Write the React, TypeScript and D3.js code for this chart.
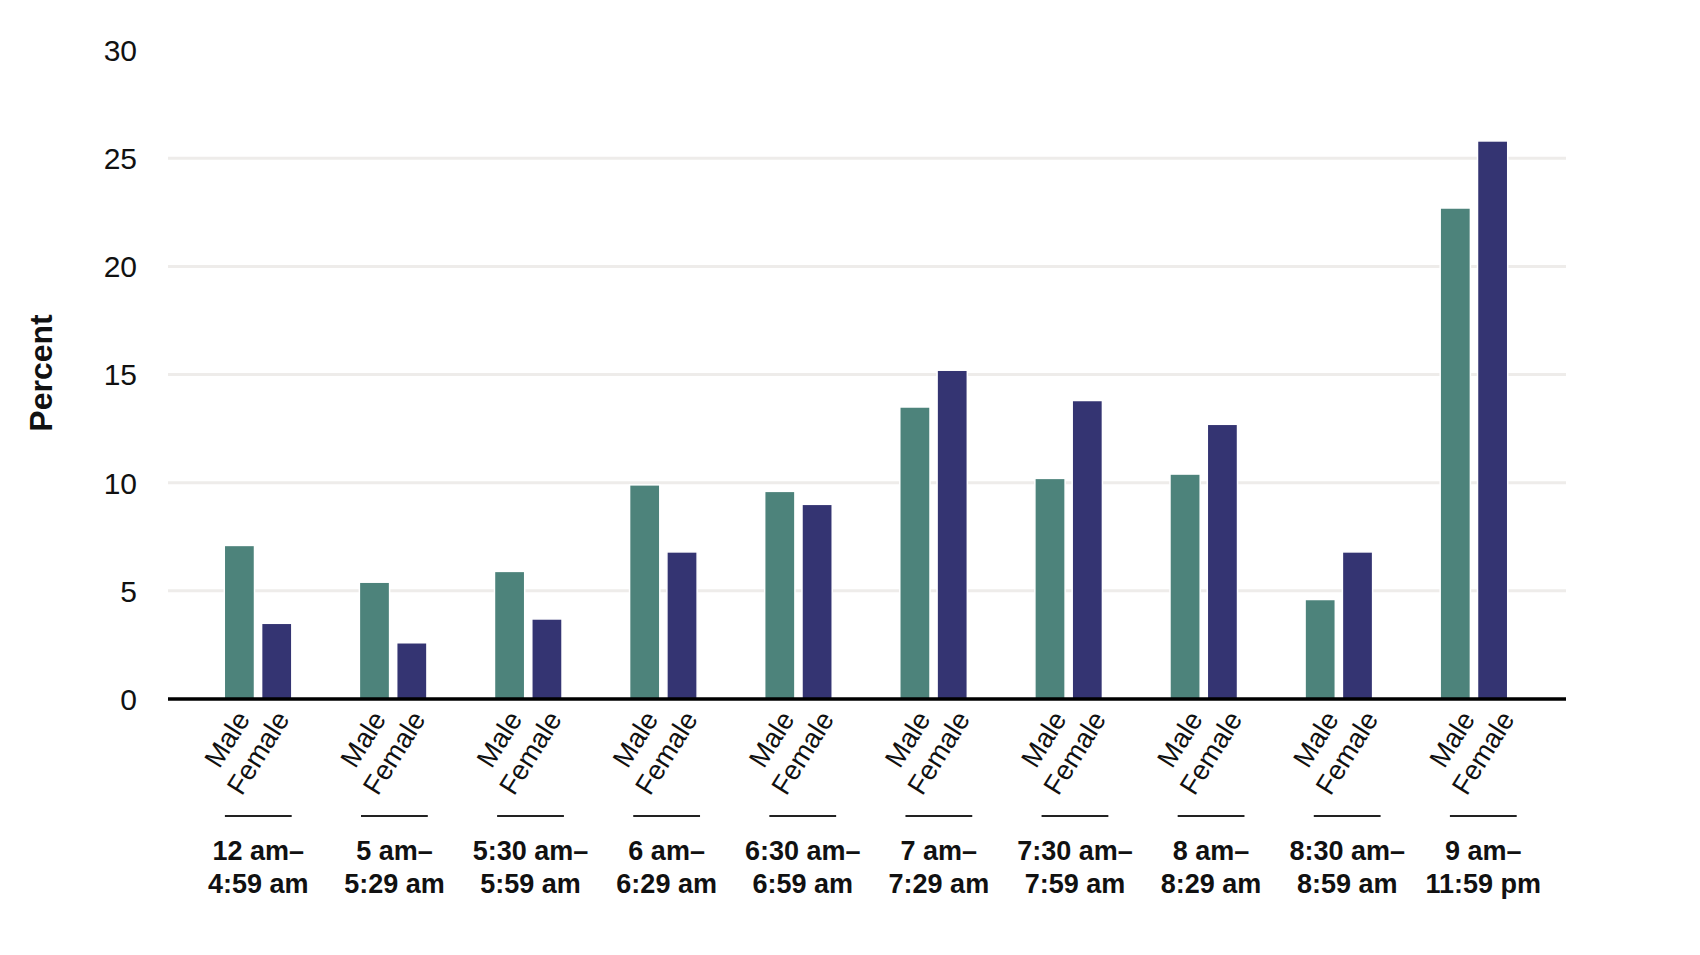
/* eslint-disable */
import React, { useEffect, useRef } from 'react';
import * as d3 from 'd3';

// ------- Data -------
const groupStart = ['12 am–', '5 am–', '5:30 am–', '6 am–', '6:30 am–', '7 am–', '7:30 am–', '8 am–', '8:30 am–', '9 am–'];
const groupEnd = ['4:59 am', '5:29 am', '5:59 am', '6:29 am', '6:59 am', '7:29 am', '7:59 am', '8:29 am', '8:59 am', '11:59 pm'];
const sexes = ['Male', 'Female'];
const maleValues = [7.1, 5.4, 5.9, 9.9, 9.6, 13.5, 10.2, 10.4, 4.6, 22.7];
const femaleValues = [3.5, 2.6, 3.7, 6.8, 9.0, 15.2, 13.8, 12.7, 6.8, 25.8];
const yTicks = [0, 5, 10, 15, 20, 25, 30];

const colors: Record<string, string> = { Male: '#4d837b', Female: '#343472' };

const App = () => {
  const ref = useRef<SVGSVGElement>(null);

  useEffect(() => {
    if (!ref.current) return;
    const svg = d3.select(ref.current);
    svg.selectAll('*').remove();

    const width = 1700;
    const height = 955;
    const left = 168;
    const right = 1566;
    const font = '"Liberation Sans", Arial, Helvetica, sans-serif';

    svg.attr('width', width).attr('height', height).attr('viewBox', `0 0 ${width} ${height}`);

    const groups = groupStart.map((s, i) => `${s} ${groupEnd[i]}`);
    const rows = groups.map((g, i) => ({ group: g, Male: maleValues[i], Female: femaleValues[i] }));

    // ------- Scales -------
    const y = d3.scaleLinear().domain([0, 30]).range([699, 50.1]);

    const x0 = d3
      .scaleBand<string>()
      .domain(groups)
      .range([190.5, 1541.5])
      .paddingInner(0.5)
      .paddingOuter(0.25);

    const x1 = d3
      .scaleBand<string>()
      .domain(sexes)
      .range([0, x0.bandwidth()])
      .paddingInner(0.19);

    // label layer sits on a slightly wider step than the bars
    const xl = d3.scalePoint<string>().domain(groups).range([258.3, 1483.3]);
    const xs = d3.scalePoint<string>().domain(sexes).range([-7.5, 32]);

    // ------- Gridlines -------
    svg.append('g')
      .selectAll('line')
      .data(yTicks.filter((t) => t > 0 && t < 30))
      .enter()
      .append('line')
      .attr('x1', left)
      .attr('x2', right)
      .attr('y1', (d) => y(d))
      .attr('y2', (d) => y(d))
      .attr('stroke', '#eeecea')
      .attr('stroke-width', 3);

    // ------- Y tick labels -------
    svg.append('g')
      .selectAll('text')
      .data(yTicks)
      .enter()
      .append('text')
      .attr('x', 137)
      .attr('y', (d) => y(d))
      .attr('dy', '0.36em')
      .attr('text-anchor', 'end')
      .attr('font-family', font)
      .attr('font-size', 30)
      .attr('fill', '#111')
      .text((d) => d);

    svg.append('text')
      .attr('transform', `translate(51.5, 373) rotate(-90)`)
      .attr('text-anchor', 'middle')
      .attr('font-family', font)
      .attr('font-weight', 'bold')
      .attr('font-size', 32)
      .attr('fill', '#111')
      .text('Percent');

    // ------- Bars -------
    const gBars = svg.append('g')
      .selectAll('g')
      .data(rows)
      .enter()
      .append('g')
      .attr('transform', (d) => `translate(${x0(d.group)},0)`);

    gBars.selectAll('rect')
      .data((d: any) => sexes.map((s) => ({ key: s, value: d[s] as number })))
      .enter()
      .append('rect')
      .attr('x', (d) => x1(d.key)!)
      .attr('y', (d) => y(d.value))
      .attr('width', x1.bandwidth())
      .attr('height', (d) => y(0) - y(d.value))
      .attr('fill', (d) => colors[d.key])
      .attr('stroke', '#ffffff')
      .attr('stroke-width', 1.5);

    // ------- Baseline -------
    svg.append('line')
      .attr('x1', left)
      .attr('x2', right)
      .attr('y1', y(0))
      .attr('y2', y(0))
      .attr('stroke', '#000')
      .attr('stroke-width', 3.5);

    // ------- X labels -------
    const gLab = svg.append('g')
      .selectAll('g')
      .data(groups)
      .enter()
      .append('g')
      .attr('transform', (d) => `translate(${xl(d)},0)`);

    sexes.forEach((s) => {
      gLab.append('text')
        .attr('transform', `translate(${xs(s)}, 719) rotate(-58)`)
        .attr('text-anchor', 'end')
        .attr('font-family', font)
        .attr('font-size', 27.5)
        .attr('fill', '#111')
        .text(s);
    });

    gLab.append('line')
      .attr('x1', -33.4)
      .attr('x2', 33.4)
      .attr('y1', 816)
      .attr('y2', 816)
      .attr('stroke', '#222')
      .attr('stroke-width', 2);

    gLab.append('text')
      .attr('y', 860)
      .attr('text-anchor', 'middle')
      .attr('font-family', font)
      .attr('font-weight', 'bold')
      .attr('font-size', 27)
      .attr('fill', '#111')
      .text((d, i) => groupStart[i]);

    gLab.append('text')
      .attr('y', 893)
      .attr('text-anchor', 'middle')
      .attr('font-family', font)
      .attr('font-weight', 'bold')
      .attr('font-size', 27)
      .attr('fill', '#111')
      .text((d, i) => groupEnd[i]);
  }, []);

  return (
    <svg
      ref={ref}
      style={{ position: 'absolute', left: 0, top: 0, display: 'block', background: '#fff' }}
    />
  );
};

export default App;
